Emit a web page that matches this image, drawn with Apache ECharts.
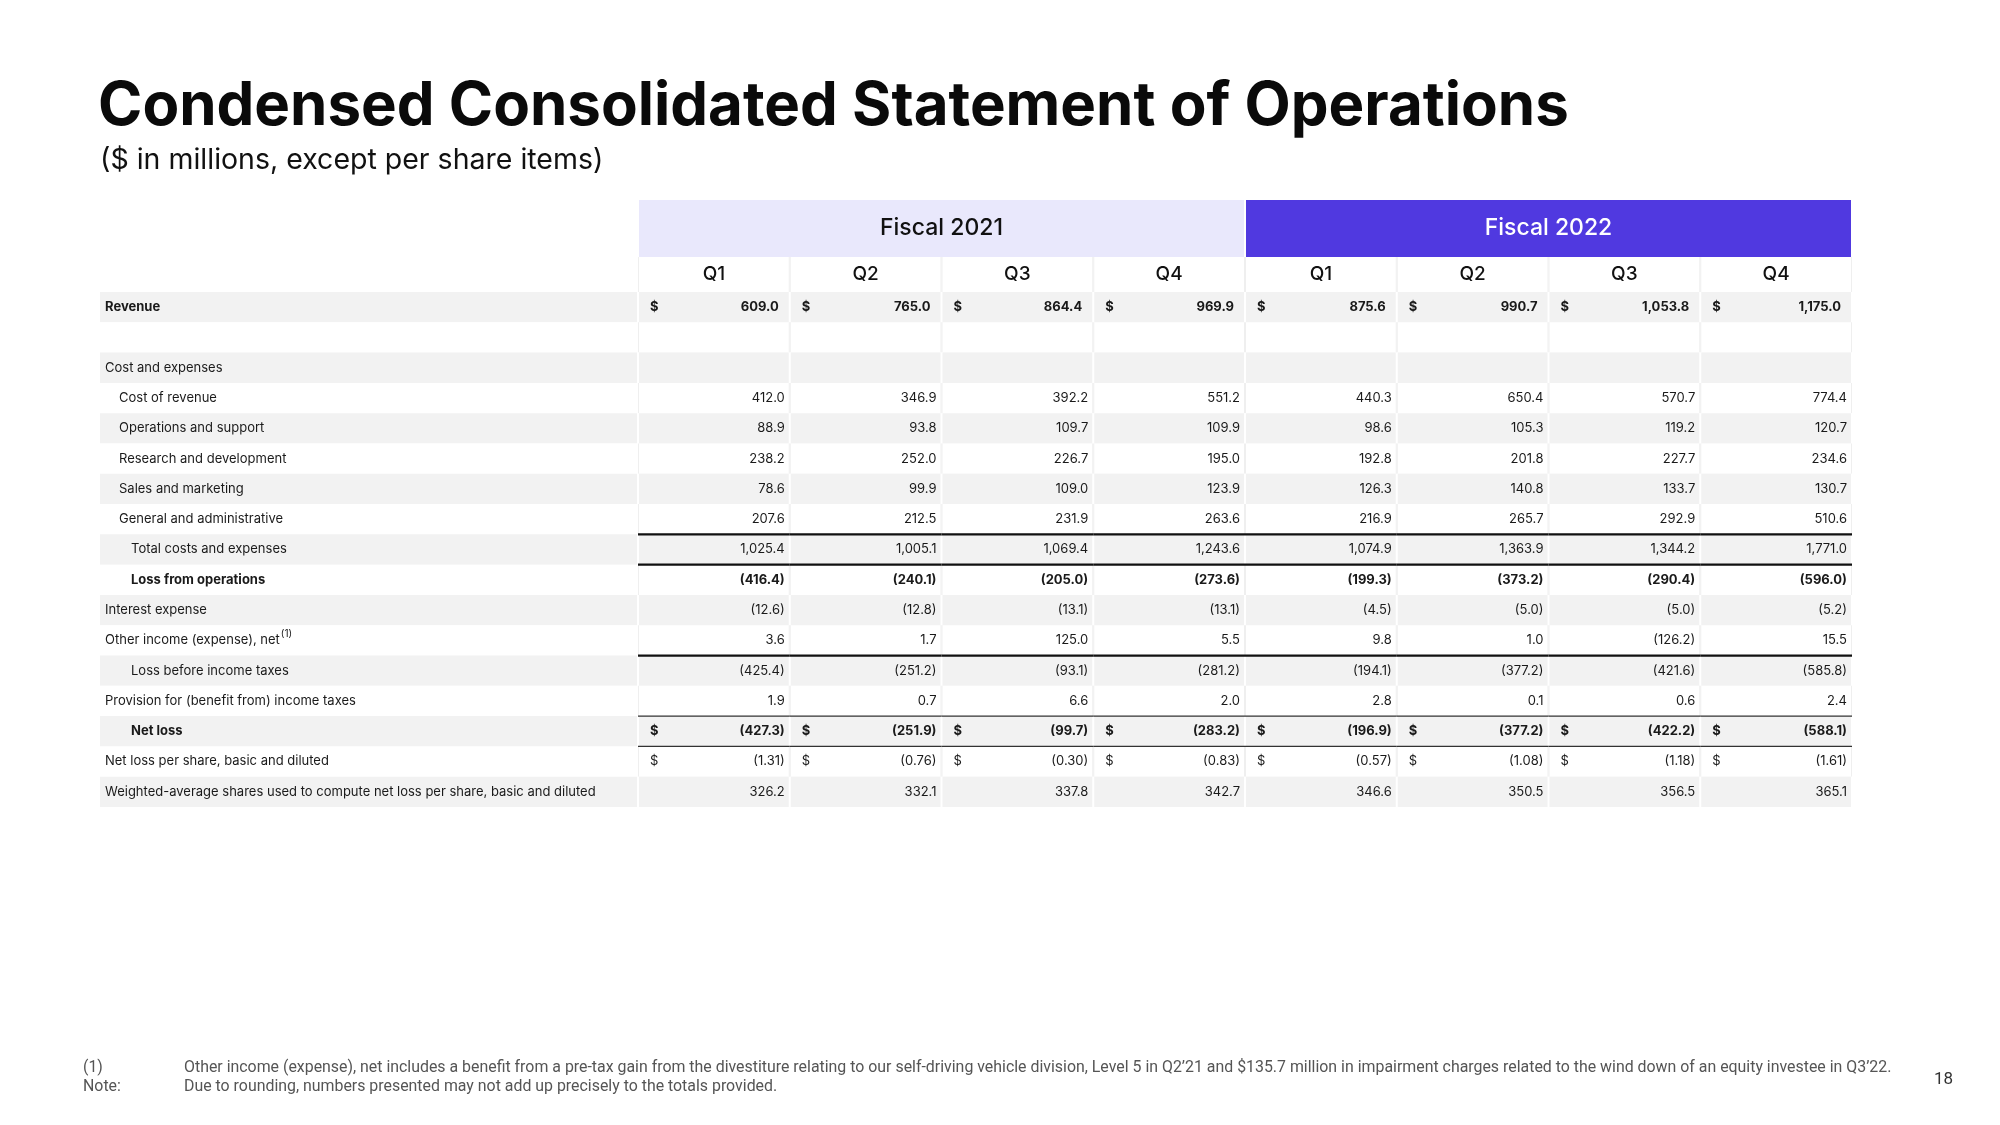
<!DOCTYPE html>
<html><head><meta charset="utf-8">
<script src="https://cdn.jsdelivr.net/npm/echarts/dist/echarts.min.js"></script>
<style>html,body{margin:0;padding:0;background:#fff}#c{width:2000px;height:1125px}</style>
</head><body><div id="c"></div>
<script>
// ---------- DATA ----------
const fiscalYears = ['Fiscal 2021', 'Fiscal 2022'];
const quarters = ['Q1', 'Q2', 'Q3', 'Q4', 'Q1', 'Q2', 'Q3', 'Q4'];
const rowLabels = [
  'Revenue', '', 'Cost and expenses', 'Cost of revenue', 'Operations and support',
  'Research and development', 'Sales and marketing', 'General and administrative',
  'Total costs and expenses', 'Loss from operations', 'Interest expense',
  'Other income (expense), net', 'Loss before income taxes',
  'Provision for (benefit from) income taxes', 'Net loss',
  'Net loss per share, basic and diluted',
  'Weighted-average shares used to compute net loss per share, basic and diluted'
];
const rowIndent = [0, 0, 0, 1, 1, 1, 1, 1, 2, 2, 0, 0, 2, 0, 2, 0, 0];
const boldRows = ['Revenue', 'Loss from operations', 'Net loss'];
const dollarRows = ['Revenue', 'Net loss', 'Net loss per share, basic and diluted'];
const footnoteRows = ['Other income (expense), net'];
const thickRuleRows = ['General and administrative', 'Total costs and expenses', 'Other income (expense), net'];
const thinRuleRows = ['Provision for (benefit from) income taxes', 'Net loss'];

const revenue = [609.0, 765.0, 864.4, 969.9, 875.6, 990.7, 1053.8, 1175.0];
const costOfRevenue = [412.0, 346.9, 392.2, 551.2, 440.3, 650.4, 570.7, 774.4];
const operationsSupport = [88.9, 93.8, 109.7, 109.9, 98.6, 105.3, 119.2, 120.7];
const researchDevelopment = [238.2, 252.0, 226.7, 195.0, 192.8, 201.8, 227.7, 234.6];
const salesMarketing = [78.6, 99.9, 109.0, 123.9, 126.3, 140.8, 133.7, 130.7];
const generalAdmin = [207.6, 212.5, 231.9, 263.6, 216.9, 265.7, 292.9, 510.6];
const totalCosts = [1025.4, 1005.1, 1069.4, 1243.6, 1074.9, 1363.9, 1344.2, 1771.0];
const lossFromOps = [-416.4, -240.1, -205.0, -273.6, -199.3, -373.2, -290.4, -596.0];
const interestExpense = [-12.6, -12.8, -13.1, -13.1, -4.5, -5.0, -5.0, -5.2];
const otherIncome = [3.6, 1.7, 125.0, 5.5, 9.8, 1.0, -126.2, 15.5];
const lossBeforeTax = [-425.4, -251.2, -93.1, -281.2, -194.1, -377.2, -421.6, -585.8];
const incomeTaxes = [1.9, 0.7, 6.6, 2.0, 2.8, 0.1, 0.6, 2.4];
const netLoss = [-427.3, -251.9, -99.7, -283.2, -196.9, -377.2, -422.2, -588.1];
const netLossPerShare = [-1.31, -0.76, -0.30, -0.83, -0.57, -1.08, -1.18, -1.61];
const weightedShares = [326.2, 332.1, 337.8, 342.7, 346.6, 350.5, 356.5, 365.1];

const rowValues = [revenue, null, null, costOfRevenue, operationsSupport, researchDevelopment,
  salesMarketing, generalAdmin, totalCosts, lossFromOps, interestExpense, otherIncome,
  lossBeforeTax, incomeTaxes, netLoss, netLossPerShare, weightedShares];
const rowDecimals = [1, 1, 1, 1, 1, 1, 1, 1, 1, 1, 1, 1, 1, 1, 1, 2, 1];

const titleText = 'Condensed Consolidated Statement of Operations';
const subtitleText = '($ in millions, except per share items)';
const footnote1 = 'Other income (expense), net includes a benefit from a pre-tax gain from the divestiture relating to our self-driving vehicle division, Level 5 in Q2\u201921 and $135.7 million in impairment charges related to the wind down of an equity investee in Q3\u201922.';
const footnote2 = 'Due to rounding, numbers presented may not add up precisely to the totals provided.';
const pageNumber = '18';

// ---------- RENDERING ----------
const FONT = 'Inter';
const GRAY = '#f2f2f2';
const TXT = '#1a1a1a';

function fmt(v, d) {
  const s = Math.abs(v).toLocaleString('en-US', {minimumFractionDigits: d, maximumFractionDigits: d});
  return v < 0 ? '(' + s + ')' : s;
}
function cellBox(api) {
  const p = api.coord([api.value(0), api.value(1)]);
  const s = api.size([1, 1]);
  return {cx: p[0], cy: p[1], x0: p[0] - s[0] / 2, y0: p[1] - s[1] / 2, w: s[0], h: s[1]};
}

const bodyData = [];
rowLabels.forEach((_, r) => quarters.forEach((__, c) => bodyData.push([c, r])));
const labelData = rowLabels.map((_, r) => [0, r]);
const ruleData = [];
rowLabels.forEach((lab, r) => {
  if (thickRuleRows.includes(lab) || thinRuleRows.includes(lab)) quarters.forEach((_, c) => ruleData.push([c, r]));
});

function bodyItem(params, api) {
  const b = cellBox(api);
  const r = api.value(1), c = api.value(0);
  const gray = r % 2 === 0;
  const lab = rowLabels[r];
  const children = [
    {type: 'rect', shape: {x: b.x0, y: b.y0, width: b.w, height: b.h}, style: {fill: gray ? '#ffffff' : '#efefef'}},
    {type: 'rect', shape: {x: b.x0 + 1, y: b.y0, width: b.w - 2, height: b.h}, style: {fill: gray ? GRAY : '#ffffff'}}
  ];
  const vals = rowValues[r];
  if (vals) {
    const bold = boldRows.includes(lab);
    const pad = lab === 'Revenue' ? 11 : 5;
    children.push({type: 'text', style: {x: b.x0 + b.w - pad, y: b.cy, text: fmt(vals[c], rowDecimals[r]),
      fill: TXT, fontSize: 13, fontFamily: FONT, fontWeight: bold ? 700 : 400, align: 'right', verticalAlign: 'middle'}});
    if (dollarRows.includes(lab)) {
      children.push({type: 'text', style: {x: b.x0 + 12, y: b.cy, text: '$',
        fill: TXT, fontSize: 13, fontFamily: FONT, fontWeight: lab === 'Net loss per share, basic and diluted' ? 400 : 700,
        align: 'left', verticalAlign: 'middle'}});
    }
  }
  return {type: 'group', children};
}

function labelItem(params, api) {
  const b = cellBox(api);
  const r = api.value(1);
  const gray = r % 2 === 0;
  const lab = rowLabels[r];
  const bold = boldRows.includes(lab);
  const indentPx = [5, 19, 31][rowIndent[r]];
  const children = [
    {type: 'rect', shape: {x: b.x0, y: b.y0, width: b.w - 1, height: b.h}, style: {fill: gray ? GRAY : '#ffffff'}}
  ];
  if (lab) {
    let text = lab, rich;
    if (footnoteRows.includes(lab)) {
      text = '{a|' + lab + '}{s|(1)}';
      rich = {a: {fontSize: 13, fontFamily: FONT, fill: TXT},
              s: {fontSize: 10, fontFamily: FONT, fill: TXT, padding: [0, 0, 13, 1]}};
    }
    children.push({type: 'text', style: {x: b.x0 + indentPx, y: b.cy, text, rich,
      fill: TXT, fontSize: 13, fontFamily: FONT, fontWeight: bold ? 700 : 400, align: 'left', verticalAlign: 'middle'}});
  }
  return {type: 'group', children};
}

function ruleItem(params, api) {
  const b = cellBox(api);
  const lab = rowLabels[api.value(1)];
  const thick = thickRuleRows.includes(lab);
  const y = b.y0 + b.h;
  return {type: 'line', shape: {x1: b.x0, y1: y, x2: b.x0 + b.w, y2: y},
    style: {stroke: thick ? '#111111' : '#333333', lineWidth: thick ? 2.2 : 1.3}};
}

function fiscalItem(params, api) {
  const b = cellBox(api);
  const i = api.value(0);
  return {type: 'group', children: [
    {type: 'rect', shape: {x: b.x0 + 1, y: b.y0, width: b.w - 2, height: b.h}, style: {fill: i === 0 ? '#e9e8fc' : '#5039e0'}},
    {type: 'text', style: {x: b.cx, y: b.cy, text: fiscalYears[i], fill: i === 0 ? '#111111' : '#ffffff',
      fontSize: 23, fontFamily: FONT, fontWeight: 500, align: 'center', verticalAlign: 'middle'}}
  ]};
}

function quarterItem(params, api) {
  const b = cellBox(api);
  const i = api.value(0);
  return {type: 'group', children: [
    {type: 'rect', shape: {x: b.x0, y: b.y0, width: b.w, height: b.h}, style: {fill: '#efefef'}},
    {type: 'rect', shape: {x: b.x0 + 1, y: b.y0, width: b.w - 2, height: b.h}, style: {fill: '#ffffff'}},
    {type: 'text', style: {x: b.cx, y: b.cy, text: quarters[i], fill: '#111111',
      fontSize: 19, fontFamily: FONT, fontWeight: 500, align: 'center', verticalAlign: 'middle'}}
  ]};
}

const chart = echarts.init(document.getElementById('c'), null, {renderer: 'canvas'});
const hiddenCat = (data, inverse) => ({type: 'category', data, show: false, inverse: !!inverse});
const rowIdx = rowLabels.map((_, i) => i);

chart.setOption({
  animation: false,
  backgroundColor: '#ffffff',
  grid: [
    {left: 638, width: 1214, top: 292, height: 515},   // body numbers
    {left: 100, width: 538, top: 292, height: 515},    // body labels
    {left: 638, width: 1214, top: 200, height: 57},    // fiscal header
    {left: 638, width: 1214, top: 257, height: 35}     // quarter header
  ],
  xAxis: [
    Object.assign(hiddenCat(quarters.map((q, i) => i)), {gridIndex: 0}),
    Object.assign(hiddenCat([0]), {gridIndex: 1}),
    Object.assign(hiddenCat(fiscalYears.map((f, i) => i)), {gridIndex: 2}),
    Object.assign(hiddenCat(quarters.map((q, i) => i)), {gridIndex: 3})
  ],
  yAxis: [
    Object.assign(hiddenCat(rowIdx, true), {gridIndex: 0}),
    Object.assign(hiddenCat(rowIdx, true), {gridIndex: 1}),
    Object.assign(hiddenCat([0]), {gridIndex: 2}),
    Object.assign(hiddenCat([0]), {gridIndex: 3})
  ],
  series: [
    {type: 'custom', xAxisIndex: 0, yAxisIndex: 0, data: bodyData, renderItem: bodyItem, z: 2, silent: true},
    {type: 'custom', xAxisIndex: 1, yAxisIndex: 1, data: labelData, renderItem: labelItem, z: 2, silent: true},
    {type: 'custom', xAxisIndex: 0, yAxisIndex: 0, data: ruleData, renderItem: ruleItem, z: 5, silent: true},
    {type: 'custom', xAxisIndex: 2, yAxisIndex: 2, data: fiscalYears.map((f, i) => [i, 0]), renderItem: fiscalItem, z: 2, silent: true},
    {type: 'custom', xAxisIndex: 3, yAxisIndex: 3, data: quarters.map((q, i) => [i, 0]), renderItem: quarterItem, z: 2, silent: true}
  ],
  graphic: [
    {type: 'text', x: 98, y: 107, style: {text: titleText, fill: '#0a0a0a', fontSize: 60, fontWeight: 700, fontFamily: FONT, verticalAlign: 'middle'}},
    {type: 'text', x: 100, y: 160, style: {text: subtitleText, fill: '#111111', fontSize: 28.5, fontWeight: 400, fontFamily: FONT, verticalAlign: 'middle'}},
    {type: 'text', x: 83, y: 1068, style: {text: '(1)', fill: '#555555', fontSize: 15.9, fontFamily: 'Roboto', verticalAlign: 'middle'}},
    {type: 'text', x: 83, y: 1087, style: {text: 'Note:', fill: '#555555', fontSize: 15.9, fontFamily: 'Roboto', verticalAlign: 'middle'}},
    {type: 'text', x: 184, y: 1068, style: {text: footnote1, fill: '#555555', fontSize: 15.9, fontFamily: 'Roboto', verticalAlign: 'middle'}},
    {type: 'text', x: 184, y: 1087, style: {text: footnote2, fill: '#555555', fontSize: 15.9, fontFamily: 'Roboto', verticalAlign: 'middle'}},
    {type: 'text', x: 1953, y: 1080, style: {text: pageNumber, fill: '#333333', fontSize: 17, fontFamily: 'Roboto', align: 'right', verticalAlign: 'middle'}}
  ]
});
</script>
</body></html>
